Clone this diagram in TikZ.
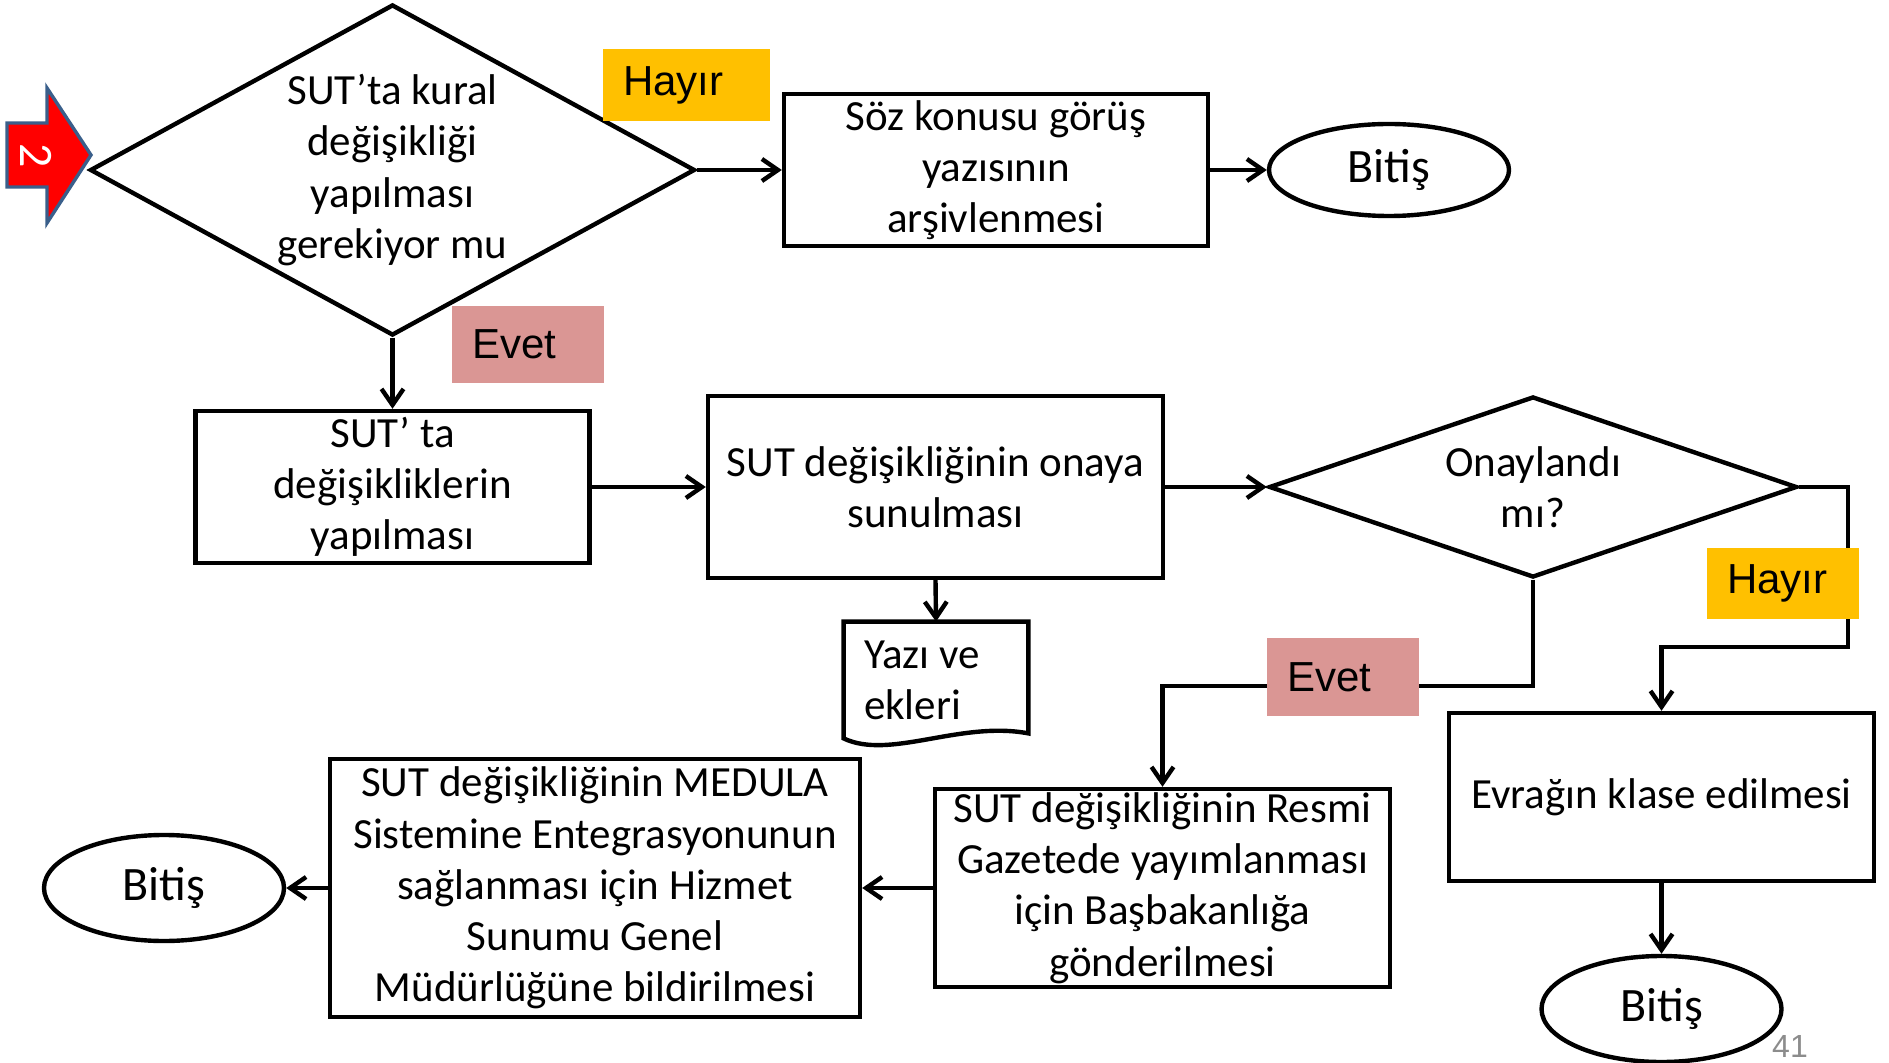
\documentclass[tikz,border=0pt]{standalone}
\usepackage{fontspec}
\setmainfont{Carlito}
\newfontfamily\arialfont{Liberation Sans}
\usetikzlibrary{arrows.meta}
\usetikzlibrary{shapes.geometric}
\definecolor{mhayir}{HTML}{FFC000}
\definecolor{mevet}{HTML}{DA9694}
\definecolor{mred}{HTML}{FF0000}
\definecolor{mblue}{HTML}{3A5F8B}
\definecolor{mgray}{HTML}{8C8C8C}
\tikzset{
  box/.style={draw, line width=2.2pt, rectangle, inner sep=0pt, align=center, font=\fontsize{21.5}{25.6}\selectfont},
  decision/.style={draw, line width=2.2pt, diamond, inner sep=0pt, align=center, font=\fontsize{21.5}{25.6}\selectfont},
  ending/.style={draw, line width=2.2pt, ellipse, inner sep=0pt, minimum width=120pt, font=\fontsize{24}{28}\selectfont},
  answer/.style={inner xsep=10pt, inner ysep=0pt, text width=56pt, align=flush left, font=\arialfont\fontsize{21}{25}\selectfont},
  arr/.style={line width=2.2pt, -{Straight Barb[length=8pt,width=11pt]}}
}
\begin{document}
\begin{tikzpicture}[x=0.5pt, y=-0.5pt]
      \useasboundingbox (0, 0) rectangle (1889, 1063);

      \draw [line width=1.7pt, draw=mblue, fill=mred] (7, 123) -- (47, 123) -- (47, 88) -- (91, 155) -- (47, 223) -- (47, 187) -- (7, 187) -- cycle;
      \node (num) at (36, 156) [rotate=-90, text=white, inner sep=0pt, font=\fontsize{24}{28}\selectfont] {2};

      \node (kural) at (392.5, 170) [decision, aspect=1.83, minimum width=302.5pt, minimum height=165.5pt] {SUT’ta kural\\değişikliği\\yapılması\\gerekiyor mu};
      \node (arsiv) at (996, 170) [box, minimum width=212pt, minimum height=76pt] {Söz konusu görüş\\yazısının\\arşivlenmesi};
      \node (bitisA) at (1389, 170) [ending, minimum height=46pt] {Bitiş};

      \node (degis) at (392.5, 487) [box, minimum width=197pt, minimum height=76pt] {SUT’ ta\\değişikliklerin\\yapılması};
      \node (onaya) at (935.5, 487) [box, minimum width=227.5pt, minimum height=91pt] {SUT değişikliğinin onaya\\sunulması};
      \node (onay) at (1533, 487) [decision, aspect=2.92, minimum width=264pt, minimum height=90.5pt] {Onaylandı\\mı?};

      \node (yazi) at (936, 680) [inner xsep=10pt, inner ysep=0pt, text width=72pt, minimum height=58pt, align=flush left, font=\fontsize{21.5}{25.6}\selectfont] {Yazı ve\\ekleri};
      \draw [line width=2.2pt] (yazi.south west) -- (yazi.north west) -- (yazi.north east) -- ([yshift=2.5pt]yazi.south east) .. controls +(-68, -13) and +(46, 22) .. (yazi.south west) -- cycle;

      \node (evrak) at (1661.5, 797) [box, minimum width=212.5pt, minimum height=84pt] {Evrağın klase edilmesi};
      \node (bitisC) at (1661.5, 1009) [ending, minimum height=53pt] {Bitiş};
      \node (resmi) at (1162.5, 888) [box, minimum width=227.5pt, minimum height=99pt] {SUT değişikliğinin Resmi\\Gazetede yayımlanması\\için Başbakanlığa\\gönderilmesi};
      \node (medula) at (595, 888) [box, minimum width=265pt, minimum height=129pt] {SUT değişikliğinin MEDULA\\Sistemine Entegrasyonunun\\sağlanması için Hizmet\\Sunumu Genel\\Müdürlüğüne bildirilmesi};
      \node (bitisB) at (164, 888) [ending, minimum height=53pt] {Bitiş};

      \draw [arr] (kural.east) -- (arsiv.west);
      \draw [arr] (arsiv.east) -- (bitisA.west);
      \draw [arr] (kural.south) -- (degis.north);
      \draw [arr] (degis.east) -- (onaya.west);
      \draw [arr] (onaya.east) -- (onay.west);
      \draw [arr] (onaya.south) -- (yazi.north);
      \draw [arr] (onay.south) -- ++(0, 106) -| (resmi.north);
      \draw [arr] (onay.east) -- ++(49, 0) -- ++(0, 160) -| (evrak.north);
      \draw [arr] (evrak.south) -- (bitisC.north);
      \draw [arr] (resmi.west) -- (medula.east);
      \draw [arr] (medula.west) -- (bitisB.east);

      \node (hayirA) at (686.5, 85) [answer, fill=mhayir, text width=63.5pt, minimum height=36pt] {Hayır};
      \node (evetA) at (528, 344.5) [answer, fill=mevet, minimum height=38.5pt] {Evet};
      \node (hayirB) at (1783, 583.5) [answer, fill=mhayir, minimum height=35.5pt] {Hayır};
      \node (evetB) at (1343, 677) [answer, fill=mevet, minimum height=39pt] {Evet};

      \node (sayfa) at (1790, 1046) [text=mgray, inner sep=0pt, font=\arialfont\fontsize{16}{18}\selectfont] {41};
    \end{tikzpicture}
\end{document}
